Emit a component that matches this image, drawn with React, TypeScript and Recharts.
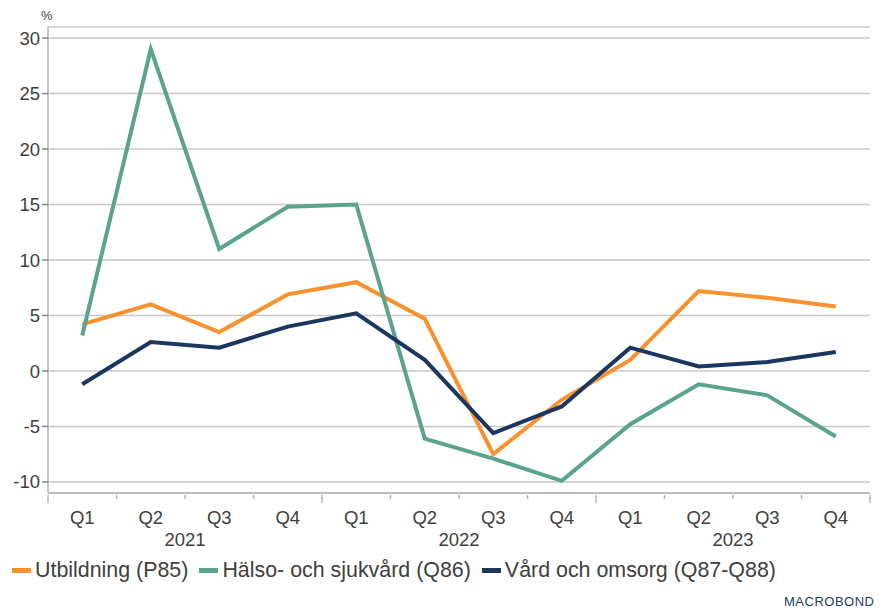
import { LineChart, Line, XAxis, YAxis, CartesianGrid } from 'recharts'

const quarters = ['Q1', 'Q2', 'Q3', 'Q4', 'Q1', 'Q2', 'Q3', 'Q4', 'Q1', 'Q2', 'Q3', 'Q4']
const years = ['2021', '2021', '2021', '2021', '2022', '2022', '2022', '2022', '2023', '2023', '2023', '2023']
const utbildning = [4.2, 6.0, 3.5, 6.9, 8.0, 4.7, -7.5, -2.6, 1.0, 7.2, 6.6, 5.8]
const halso = [3.2, 29.0, 11.0, 14.8, 15.0, -6.1, -7.9, -9.9, -4.8, -1.2, -2.2, -5.9]
const vard = [-1.2, 2.6, 2.1, 4.0, 5.2, 1.0, -5.6, -3.2, 2.1, 0.4, 0.8, 1.7]
const yTicks = [-10, -5, 0, 5, 10, 15, 20, 25, 30]

const series = [
  { key: 'utb', name: 'Utbildning (P85)', color: '#F7922F' },
  { key: 'hal', name: 'Hälso- och sjukvård (Q86)', color: '#5AA38E' },
  { key: 'vard', name: 'Vård och omsorg (Q87-Q88)', color: '#1B365F' },
]

const data = quarters.map((q, i) => ({
  q,
  year: years[i],
  utb: utbildning[i],
  hal: halso[i],
  vard: vard[i],
}))

const FONT = '"Liberation Sans", Arial, sans-serif'
const TEXT = '#404040'
const AXIS = '#b4b4b4'
const W = 882
const H = 610
const PLOT_LEFT = 48
const PLOT_RIGHT = 870
const band = (PLOT_RIGHT - PLOT_LEFT) / quarters.length

function QuarterTick(props: any) {
  const { x, y, payload, index } = props
  const left = x - band / 2
  const major = index % 4 === 0
  return (
    <g>
      <line x1={left} x2={left} y1={y - 8} y2={y + (major ? 0 : -4)} stroke={AXIS} strokeWidth={1.5} />
      {index === quarters.length - 1 && (
        <line x1={x + band / 2} x2={x + band / 2} y1={y - 8} y2={y} stroke={AXIS} strokeWidth={1.5} />
      )}
      <text x={x} y={y + 21} textAnchor="middle" fontSize={18.5} fontFamily={FONT} fill={TEXT}>
        {payload.value}
      </text>
      {index % 4 === 1 && (
        <text x={x + band / 2} y={y + 43} textAnchor="middle" fontSize={18.5} fontFamily={FONT} fill={TEXT}>
          {years[index]}
        </text>
      )}
    </g>
  )
}

function LegendBox() {
  return (
    <div
      style={{
        position: 'absolute',
        left: 12,
        top: 558,
        display: 'flex',
        alignItems: 'center',
        fontFamily: FONT,
        fontSize: 21.4,
        color: TEXT,
        whiteSpace: 'nowrap',
      }}
    >
      {series.map((s) => (
        <div key={s.key} style={{ display: 'flex', alignItems: 'center', marginRight: 11 }}>
          <span style={{ display: 'inline-block', width: 19, height: 5, background: s.color, marginRight: 4 }} />
          <span>{s.name}</span>
        </div>
      ))}
    </div>
  )
}

export default function App() {
  return (
    <div style={{ position: 'fixed', left: 0, top: 0, width: W, height: H, background: '#fff' }}>
      <div style={{ position: 'absolute', left: 41, top: 8, fontFamily: FONT, fontSize: 13, color: TEXT }}>%</div>
      <LineChart width={W} height={H} data={data} margin={{ top: 27, right: W - PLOT_RIGHT, bottom: 67, left: 0 }}>
        <CartesianGrid vertical={false} stroke="#c8c8c8" strokeWidth={1.5} />
        <XAxis
          dataKey="q"
          height={50}
          interval={0}
          padding={{ left: band / 2, right: band / 2 }}
          tickLine={false}
          axisLine={{ stroke: AXIS, strokeWidth: 1.5 }}
          tick={<QuarterTick />}
          tickSize={8}
        />
        <YAxis
          width={PLOT_LEFT}
          domain={[-11, 31]}
          ticks={yTicks}
          interval={0}
          axisLine={{ stroke: AXIS, strokeWidth: 1.5 }}
          tickLine={{ stroke: '#888', strokeWidth: 1.5 }}
          tickSize={6}
          tick={{ fontSize: 18.5, fontFamily: FONT, fill: TEXT }}
        />
        {series.map((s) => (
          <Line
            key={s.key}
            dataKey={s.key}
            name={s.name}
            stroke={s.color}
            strokeWidth={4}
            dot={false}
            activeDot={false}
            type="linear"
            isAnimationActive={false}
          />
        ))}
      </LineChart>
      <LegendBox />
      <div style={{ position: 'absolute', left: 784, top: 594, fontFamily: FONT, fontSize: 13, letterSpacing: 0.5, color: '#1F3B66' }}>
        MACROBOND
      </div>
    </div>
  )
}
